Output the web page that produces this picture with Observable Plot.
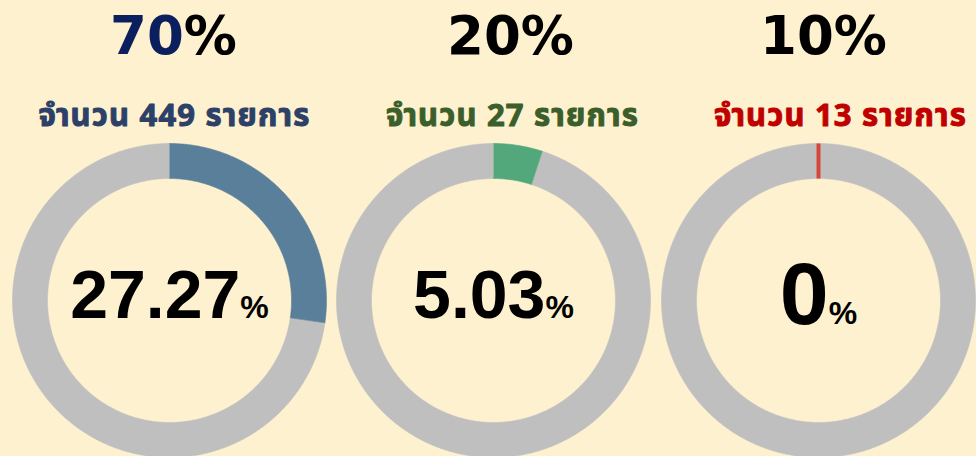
<!DOCTYPE html>
<html><head><meta charset="utf-8">
<script src="https://cdn.jsdelivr.net/npm/d3@7"></script>
<script src="https://cdn.jsdelivr.net/npm/@observablehq/plot@0.6"></script>
<style>
html,body{margin:0;padding:0;background:#fef1cf;}
#chart{width:976px;height:456px;overflow:hidden;}
g[aria-description="subtitle"] text{letter-spacing:1.2px;}
</style></head><body><div id="chart"></div>
<script>
// ---- data ----
const targets = [70, 20, 10];          // heading targets (%)
const counts = [449, 27, 13];          // item counts
const percents = [27.27, 5.03, 0];     // achieved percentage (gauge value)
const countPrefix = "จำนวน";
const countSuffix = "รายการ";

// ---- styles / layout ----
const FONT = '"Liberation Sans", Arial, Helvetica, sans-serif';
const HEAD_FONT = '"DejaVu Sans", sans-serif';
const SUB_FONT = '"Noto Sans Thai", "Liberation Sans", sans-serif';
const valueColors = ["#5a7f9a", "#53a87b", "#d8453b"];
const restColor = "#bfbfbf";
const headColors = ["#0b1f5f", "#000000", "#000000"];
const subColors = ["#2c4068", "#3b5e2b", "#c00000"];
const W = 976, H = 456;
const cx = [169, 493, 818], cy = 300, rOuter = 157, rInner = 122;
const headOffset = [4, 17, 5], subOffset = [5, 19, 22];
const headSize = 53, subSize = 31;
const bigSize = [68, 68, 88], pctSize = 32;

const panels = targets.map((t, i) => ({i, target: t, count: counts[i], pct: percents[i]}));

// ring segments built from values
function ring(i, a0, a1, key, color) {
  const pts = [];
  const n = Math.max(2, Math.ceil((a1 - a0) / 0.5));
  const rad = a => a * Math.PI / 180;
  for (let k = 0; k <= n; k++) {
    const a = rad(a0 + (a1 - a0) * k / n);
    pts.push({key, color, x: cx[i] + rOuter * Math.sin(a), y: cy - rOuter * Math.cos(a)});
  }
  for (let k = n; k >= 0; k--) {
    const a = rad(a0 + (a1 - a0) * k / n);
    pts.push({key, color, x: cx[i] + rInner * Math.sin(a), y: cy - rInner * Math.cos(a)});
  }
  return pts;
}
const segs = [];
panels.forEach(d => {
  const a = d.pct / 100 * 360;
  segs.push(...ring(d.i, a, 360, "rest" + d.i, restColor));
  if (d.pct > 0) segs.push(...ring(d.i, 0, a, "val" + d.i, valueColors[d.i]));
});

// text measuring for split-colour labels
const ctx = document.createElement("canvas").getContext("2d");
function tw(s, size, font) { ctx.font = `bold ${size}px ${font}`; return ctx.measureText(s).width; }
const headSplit = d => cx[d.i] + headOffset[d.i] + (tw(String(d.target), headSize, HEAD_FONT) - tw("%", headSize, HEAD_FONT)) / 2;
const fmt = v => String(+v.toFixed(2));
const bigSplit = d => cx[d.i] + (tw(fmt(d.pct), bigSize[d.i], FONT) - tw("%", pctSize, FONT)) / 2;
const bigBase = d => d.pct === 0 ? 323 : 317;

const chart = Plot.plot({
  width: W, height: H,
  margin: 0,
  x: {domain: [0, W], range: [0, W], axis: null},
  y: {domain: [0, H], range: [0, H], axis: null},
  color: {type: "identity"},
  style: {background: "transparent"},
  marks: [
    Plot.line(segs, {x: "x", y: "y", z: "key", fill: "color", stroke: "color", strokeWidth: 0.6, curve: "linear"}),
    Plot.link(panels.filter(d => d.pct === 0), {
      x1: d => cx[d.i], x2: d => cx[d.i], y1: cy - rInner, y2: cy - rOuter,
      stroke: d => valueColors[d.i], strokeWidth: 4
    }),
    // headings
    Plot.text(panels, {x: headSplit, y: () => 53, text: d => String(d.target), textAnchor: "end", lineAnchor: "bottom",
      fontSize: headSize, fontWeight: "bold", fontFamily: HEAD_FONT, fill: d => headColors[d.i]}),
    Plot.text(panels, {x: headSplit, y: () => 53, text: () => "%", textAnchor: "start", lineAnchor: "bottom",
      fontSize: headSize, fontWeight: "bold", fontFamily: HEAD_FONT, fill: "#000"}),
    // subtitles
    Plot.text(panels, {x: d => cx[d.i] + subOffset[d.i], y: () => 125, text: d => `${countPrefix} ${d.count} ${countSuffix}`,
      lineAnchor: "bottom", fontSize: subSize, fontWeight: "bold", fontFamily: SUB_FONT, fill: d => subColors[d.i],
      stroke: d => subColors[d.i], strokeWidth: 1, ariaDescription: "subtitle"}),
    // centre values
    Plot.text(panels, {x: bigSplit, y: bigBase, text: d => fmt(d.pct), textAnchor: "end", lineAnchor: "bottom",
      fontSize: d => bigSize[d.i], fontWeight: "bold", fontFamily: FONT, fill: "#000"}),
    Plot.text(panels, {x: bigSplit, y: bigBase, text: () => "%", textAnchor: "start", lineAnchor: "bottom",
      fontSize: pctSize, fontWeight: "bold", fontFamily: FONT, fill: "#000"})
  ]
});
document.getElementById("chart").appendChild(chart);
</script></body></html>
